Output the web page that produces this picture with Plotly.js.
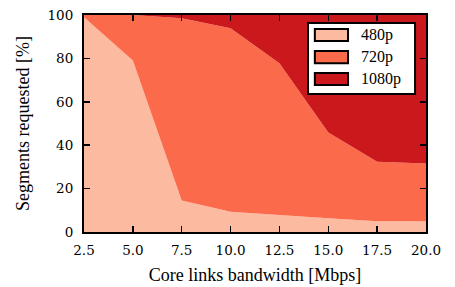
<!DOCTYPE html>
<html><head><meta charset="utf-8">
<script src="https://cdn.plot.ly/plotly-3.0.1.min.js"></script>
<style>html,body{margin:0;padding:0;background:#fff}</style>
</head><body><div id="chart" style="width:455px;height:287px"></div>
<script>
const bandwidth = [2.5, 5.0, 7.5, 10.0, 12.5, 15.0, 17.5, 20.0];
const tickLabels = ["2.5","5.0","7.5","10.0","12.5","15.0","17.5","20.0"];
const share480 = [99, 79, 14.5, 9.3, 7.8, 6.3, 5, 5];
const share720 = [1, 21, 84, 84.6, 70, 39.6, 27.4, 26.6];
const share1080 = [0, 0, 1.5, 6.1, 22.2, 54.1, 67.6, 68.4];
const names = ["480p", "720p", "1080p"];
const colors = ["#fcbba1", "#fb6a4a", "#cb181d"];
const series = [share480, share720, share1080];

const traces = series.map((s, i) => ({x: bandwidth, y: s, type: 'scatter', mode: 'none',
  stackgroup: 'one', fillcolor: colors[i], name: names[i], showlegend: false, hoverinfo: 'skip'}));

// legend drawn as a boxed key (paper coordinates)
const shapes = [{type: 'rect', xref: 'paper', yref: 'paper', x0: 0.655, x1: 0.968, y0: 0.636, y1: 0.963,
  fillcolor: '#fff', line: {color: '#000', width: 2}, layer: 'above'}];
const annotations = [];
const rowY = [0.908, 0.806, 0.705];
names.forEach((n, i) => {
  shapes.push({type: 'rect', xref: 'paper', yref: 'paper', x0: 0.675, x1: 0.772,
    y0: rowY[i] - 0.028, y1: rowY[i] + 0.028, fillcolor: colors[i],
    line: {color: '#000', width: 2}, layer: 'above'});
  annotations.push({xref: 'paper', yref: 'paper', x: 0.805, y: rowY[i], xanchor: 'left', yanchor: 'middle',
    text: n, showarrow: false, font: {family: 'Liberation Serif, serif', size: 16, color: '#000'}});
});

const tickFont = {family: 'DejaVu Serif, serif', size: 13.5, color: '#000'};
const titleFont = {family: 'Liberation Serif, serif', size: 18, color: '#000'};
Plotly.newPlot('chart', traces, {
  width: 455, height: 287,
  margin: {l: 84, r: 29, t: 15, b: 55},
  paper_bgcolor: '#fff', plot_bgcolor: '#fff',
  showlegend: false, shapes: shapes, annotations: annotations,
  xaxis: {range: [2.5, 20], tickvals: bandwidth, ticktext: tickLabels, ticks: 'inside', ticklen: 6,
    tickwidth: 1.5, tickcolor: '#000', showline: true, linecolor: '#000', linewidth: 2, mirror: 'ticks',
    showgrid: false, zeroline: false, tickfont: tickFont, ticklabelstandoff: 5,
    title: {text: 'Core links bandwidth [Mbps]', font: titleFont, standoff: 11}},
  yaxis: {range: [0, 100], tickvals: [0,20,40,60,80,100], ticks: 'inside', ticklen: 6,
    tickwidth: 1.5, tickcolor: '#000', showline: true, linecolor: '#000', linewidth: 2, mirror: 'ticks',
    showgrid: false, zeroline: false, tickfont: tickFont, ticklabelstandoff: 6,
    title: {text: 'Segments requested [%]', font: titleFont, standoff: 13}}
}, {staticPlot: true});
</script></body></html>
